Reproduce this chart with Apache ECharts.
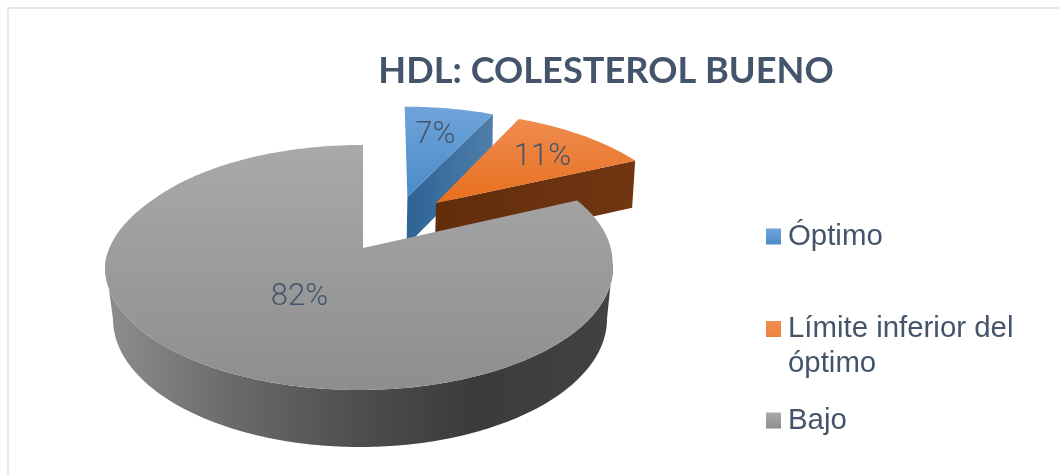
<!DOCTYPE html>
<html><head><meta charset="utf-8">
<style>html,body{margin:0;padding:0;background:#fff}#c{width:1059px;height:475px}</style>
<script src="https://cdn.jsdelivr.net/npm/echarts@6/dist/echarts.min.js"></script>
</head><body><div id="c"></div>
<script>
const titleText = 'HDL: COLESTEROL BUENO';
const categories = ['Óptimo', 'Límite inferior del óptimo', 'Bajo'];
const legendLabels = ['Óptimo', 'Límite inferior del\nóptimo', 'Bajo'];
const values = [7, 11, 82];

const textColor = '#44546a';
const G = echarts.graphic.LinearGradient;
const topFills = [
  new G(0,0,0,1,[{offset:0,color:'#6fa3d9'},{offset:1,color:'#4a8bca'}]),
  new G(0,0,0,1,[{offset:0,color:'#ef8c50'},{offset:1,color:'#e86f1d'}]),
  new G(0,0,0,1,[{offset:0,color:'#a9a9a9'},{offset:1,color:'#8e8e8e'}])
];
const edgeFills = [
  new G(0,0,1,0,[{offset:0,color:'#2e6395'},{offset:1,color:'#4f7ea9'}]),
  new G(0,0,1,0,[{offset:0,color:'#622d0b'},{offset:1,color:'#713612'}]),
  '#555'
];
const rimFill = new G(0,0,1,0,[{offset:0,color:'#8e8e8e'},{offset:.25,color:'#6a6a6a'},{offset:.5,color:'#4e4e4e'},{offset:.72,color:'#3b3b3b'},{offset:1,color:'#424242'}]);
const legendFills = [
  new G(0,0,0,1,[{offset:0,color:'#6fa3d9'},{offset:1,color:'#4a8bca'}]),
  new G(0,0,0,1,[{offset:0,color:'#f08c50'},{offset:1,color:'#e86f1d'}]),
  new G(0,0,0,1,[{offset:0,color:'#ababab'},{offset:1,color:'#8e8e8e'}])
];

// Perspective pie geometry
const CX = 363, CY = 248, RX = 250.7, RY = 119.4, K = 0.159;
const BX = 360, BY = 319, BRX = 247, BRY = 128;
const explode = [[0.19,-0.458],[0.31,-0.401],[0,0]];
const labelR = [0.69,0.72,0.445];
const labelDy = [2,4,2];
function proj(u, v) { const d = 1 - K*v; return [CX + RX*u/d, CY + RY*v/d]; }
function drop(p) { const s = 0.989 - (p[1]-161)*0.00014; return [359.5 + s*(p[0]-359.5), p[1] + 47 + (p[1]-161)*0.0437]; }
function rimNudge(idx, v) {
  if (idx < 2) return 3;
  if (v < -0.43) return 1.5*(v+1)/0.57;
  if (v < 0.1) return 1.5 - 5.5*(v+0.43)/0.53;
  return -4;
}
const total = values.reduce((a,b)=>a+b,0);

function renderSlice(idx) {
  return function (params, api) {
    const val = api.value(0);
    let before = 0;
    for (let i = 0; i < idx; i++) before += values[i];
    const a0 = before/total*360, a1 = (before+val)/total*360;
    const [ou, ov] = explode[idx];
    const P = (deg, r) => { const t = deg*Math.PI/180; return proj(ou + r*Math.sin(t), ov - r*Math.cos(t)); };
    const R = (deg) => { const p = P(deg,1); p[0] += rimNudge(idx, -Math.cos(deg*Math.PI/180)); return p; };
    const angles = (s, e) => { const out = []; const n = Math.max(2, Math.ceil(Math.abs(e-s))); for (let i=0;i<=n;i++) out.push(s+(e-s)*i/n); return out; };
    const arc = (s, e) => angles(s,e).map(R);
    const children = [];
    const apex = P(0,0);
    const wall = (a) => { const o = R(a); return [apex, o, drop(o), drop(apex)]; };
    if (a1 < 180) children.push({type:'polygon', shape:{points:wall(a1)}, style:{fill:edgeFills[idx]}});
    const rs = Math.max(a0,97), re = Math.min(a1,263);
    if (re > rs) {
      const lower = angles(270,90).map(a => {
        const t = a*Math.PI/180;
        return [BX + BRX*Math.sin(t), BY - BRY*Math.cos(t)];
      });
      children.push({type:'polygon', shape:{points: arc(rs,re).concat(lower)}, style:{fill:rimFill}});
    }
    children.push({type:'polygon', shape:{points:[apex].concat(arc(a0,a1))}, style:{fill:topFills[idx]}});
    const mid = (a0+a1)/2;
    const lp = P(mid, labelR[idx]);
    children.push({type:'text', x:lp[0], y:lp[1]+labelDy[idx], style:{text:val+'%', font:'300 31px Roboto', fill:textColor, align:'center', verticalAlign:'middle'}});
    return {type:'group', children};
  };
}

const option = {
  animation:false, backgroundColor:'#fff',
  title:{text:titleText, left:601, top:48, textAlign:'center', textStyle:{fontFamily:'Lato', fontWeight:'bold', fontSize:36.2, color:textColor}},
  legend:[219,311,403].map((top,i)=>({
    show:true, left:766, top, padding:0, orient:'vertical', data:[categories[i]],
    itemWidth:15, itemHeight:i===1?50:16,
    icon:i===1?'path://M0 0H15V16H0Z M0 50L0 50':'rect',
    itemStyle:{color:legendFills[i]}, selectedMode:false, itemGap:0,
    formatter:()=>legendLabels[i],
    textStyle:{fontFamily:'Liberation Sans', fontSize:29.4, lineHeight:35, color:textColor, padding:[0,0,0,2]}
  })),
  series:categories.map((name,i)=>({
    type:'custom', name, coordinateSystem:'none', data:[[values[i]]], clip:false,
    renderItem:renderSlice(i), itemStyle:{color:legendFills[i]}, z:2+i, silent:true
  })),
  graphic:[{type:'rect', shape:{x:8,y:8,width:1070,height:490}, style:{fill:'none',stroke:'#e6e8ec',lineWidth:2}, z:-1, silent:true}]
};
echarts.init(document.getElementById('c')).setOption(option);
</script></body></html>
